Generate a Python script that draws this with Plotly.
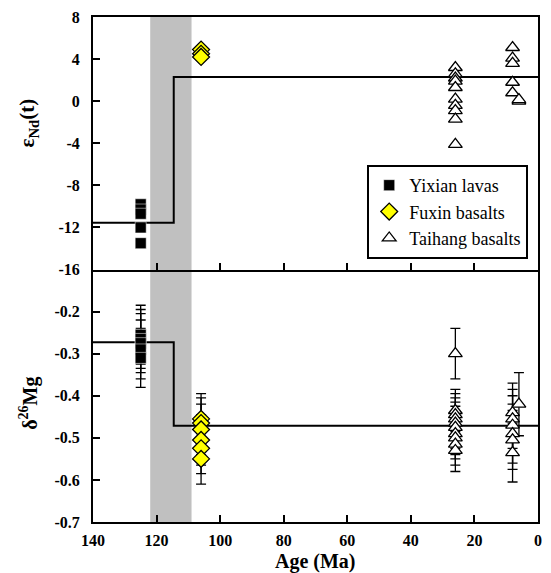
import plotly.graph_objects as go

# ---------------- data ----------------
age_ticks = [140, 120, 100, 80, 60, 40, 20, 0]
nd_ticks = [8, 4, 0, -4, -8, -12, -16]
mg_ticks = [-0.2, -0.3, -0.4, -0.5, -0.6, -0.7]

# eNd(t)
yixian_nd_age = [125, 125, 125, 125, 125]
yixian_nd = [-9.8, -10.3, -10.7, -12.0, -13.5]
fuxin_nd_age = [106, 106, 106]
fuxin_nd = [4.9, 4.5, 4.2]
taihang_nd_age = [26] * 10 + [8] * 5 + [6, 6]
taihang_nd = [3.2, 2.6, 2.2, 1.9, 1.3, 0.2, -0.4, -0.9, -1.7, -4.1,
              5.1, 4.1, 3.6, 1.8, 0.8, 0.0, 0.15]

# d26Mg
yixian_mg_age = [125] * 5
yixian_mg = [-0.255, -0.265, -0.275, -0.29, -0.31]
yixian_mg_err = [0.07] * 5
fuxin_mg_age = [106] * 6
fuxin_mg = [-0.455, -0.465, -0.48, -0.505, -0.525, -0.55]
fuxin_mg_err = [0.06] * 6
taihang_mg_age = [26] * 10 + [8] * 6 + [6]
taihang_mg = [-0.30, -0.435, -0.445, -0.455, -0.465, -0.475, -0.49, -0.50, -0.515, -0.53,
              -0.44, -0.455, -0.47, -0.49, -0.505, -0.535, -0.42]
taihang_mg_err = [0.06] + [0.05] * 9 + [0.07] * 6 + [0.075]

# step lines
step_age = [140, 114.6, 114.6, 0]
nd_step = [-11.56, -11.56, 2.3, 2.3]
mg_step = [-0.273, -0.273, -0.471, -0.471]

# gray band (Ma)
band_age = [122, 109]

# ---------------- figure ----------------
SERIF = "Liberation Serif"
fig = go.Figure()

# step lines
fig.add_trace(go.Scatter(x=step_age, y=nd_step, mode="lines", xaxis="x2", yaxis="y",
                         line=dict(color="black", width=2), showlegend=False, hoverinfo="skip"))
fig.add_trace(go.Scatter(x=step_age, y=mg_step, mode="lines", xaxis="x", yaxis="y2",
                         line=dict(color="black", width=2), showlegend=False, hoverinfo="skip"))

sq = dict(symbol="square", size=11, color="black", line=dict(color="white", width=0.5))
dia = dict(symbol="diamond", size=13, color="#FFFF00", line=dict(color="black", width=1.3))
tri = dict(symbol="triangle-up", size=12, color="white", line=dict(color="black", width=1.3))

# top panel
fig.add_trace(go.Scatter(x=yixian_nd_age, y=yixian_nd, mode="markers", xaxis="x2", yaxis="y",
                         marker=sq, name="Yixian lavas", legendgroup="a"))
fig.add_trace(go.Scatter(x=fuxin_nd_age, y=fuxin_nd, mode="markers", xaxis="x2", yaxis="y",
                         marker=dia, name="Fuxin basalts", legendgroup="b"))
fig.add_trace(go.Scatter(x=taihang_nd_age, y=taihang_nd, mode="markers", xaxis="x2", yaxis="y",
                         marker=tri, name="Taihang basalts", legendgroup="c"))

# bottom panel
eb = dict(type="data", color="black", thickness=1.3, width=5)
fig.add_trace(go.Scatter(x=yixian_mg_age, y=yixian_mg, mode="markers", xaxis="x", yaxis="y2",
                         marker=sq, showlegend=False,
                         error_y=dict(array=yixian_mg_err, **eb)))
fig.add_trace(go.Scatter(x=fuxin_mg_age, y=fuxin_mg, mode="markers", xaxis="x", yaxis="y2",
                         marker=dia, showlegend=False,
                         error_y=dict(array=fuxin_mg_err, **eb)))
fig.add_trace(go.Scatter(x=taihang_mg_age, y=taihang_mg, mode="markers", xaxis="x", yaxis="y2",
                         marker=tri, showlegend=False,
                         error_y=dict(array=taihang_mg_err, **eb)))

tickfont = dict(family=SERIF, size=16, color="black", weight="bold")
common_axis = dict(showline=True, linewidth=2, linecolor="black",
                   ticks="inside", ticklen=7, tickwidth=2, tickcolor="black",
                   showgrid=False, zeroline=False, tickfont=tickfont)

fig.update_layout(
    width=551, height=573, autosize=False,
    margin=dict(l=93, r=9, t=17, b=51),
    paper_bgcolor="white", plot_bgcolor="white",
    xaxis=dict(domain=[0, 1], anchor="y2", range=[140, 0], tickvals=age_ticks,
               ticktext=[str(v) for v in age_ticks], ticklabelstandoff=3,
               mirror=False, **common_axis),
    xaxis2=dict(domain=[0, 1], anchor="y", matches="x", range=[140, 0], tickvals=age_ticks,
                showticklabels=False, mirror=True, **common_axis),
    yaxis=dict(domain=[0.5, 1], anchor="x2", range=[-16, 8], tickvals=nd_ticks,
               ticktext=[str(v) for v in nd_ticks],
               ticklabelstandoff=8, mirror=True, **common_axis),
    yaxis2=dict(domain=[0, 0.5], anchor="x", range=[-0.7, -0.1], tickvals=mg_ticks,
                ticktext=["%.1f" % v for v in mg_ticks], ticklabelstandoff=8,
                mirror=True, **common_axis),
    legend=dict(x=0.978, xanchor="right", y=0.707, yanchor="top",
                bordercolor="black", borderwidth=2, bgcolor="white",
                font=dict(family=SERIF, size=18, color="black"),
                itemwidth=30, tracegroupgap=0),
    shapes=[dict(type="rect", xref="x", yref="paper", x0=band_age[0], x1=band_age[1],
                 y0=0, y1=1, fillcolor="#c0c0c0", line=dict(width=0), layer="below")],
    annotations=[
        dict(text="<b>ε<sub>Nd</sub>(t)</b>", xref="paper", yref="paper", x=-0.145, y=0.79,
             textangle=-90, showarrow=False, xanchor="center", yanchor="middle",
             font=dict(family=SERIF, size=21, color="black")),
        dict(text="<b>δ<sup>26</sup>Mg</b>", xref="paper", yref="paper", x=-0.145, y=0.235,
             textangle=-90, showarrow=False, xanchor="center", yanchor="middle",
             font=dict(family=SERIF, size=20, color="black")),
        dict(text="<b>Age (Ma)</b>", xref="paper", yref="paper", x=0.5, y=-0.079,
             showarrow=False, xanchor="center", yanchor="middle",
             font=dict(family=SERIF, size=20, color="black")),
    ],
)

fig.write_html("out.html")
